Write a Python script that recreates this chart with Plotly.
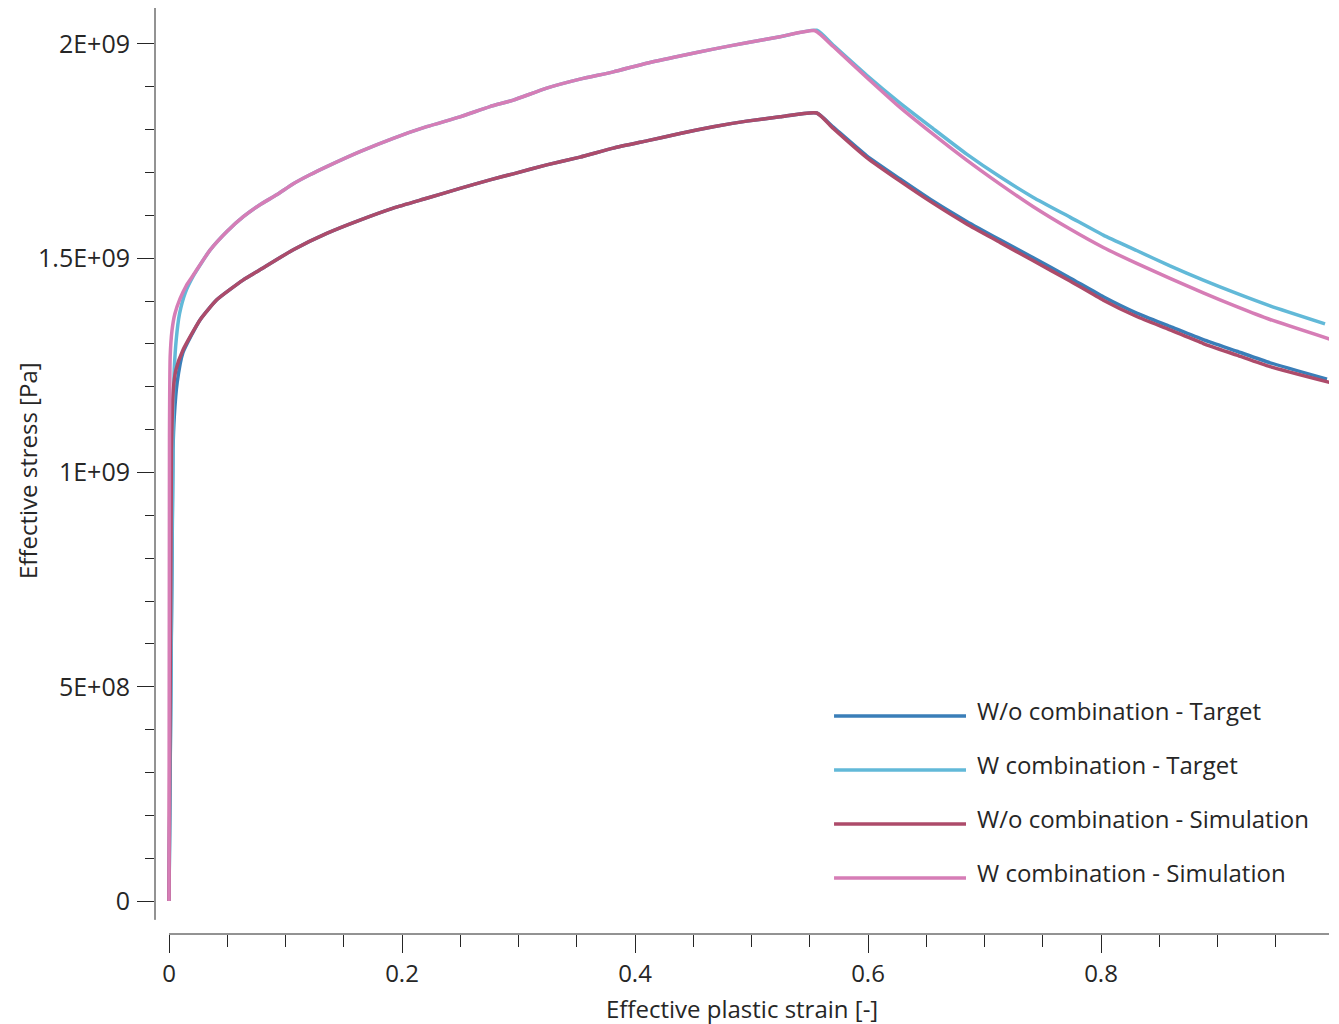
import numpy as np
import plotly.graph_objects as go

# ---------------- data (stress in units of 1E+09 Pa) ----------------
wo_target_x = [0, 0.0034, 0.0045, 0.0070, 0.0120, 0.0266, 0.0410, 0.0635, 0.0781, 0.1067, 0.1354,
               0.1639, 0.1925, 0.2212, 0.2498, 0.2755, 0.2955, 0.3242, 0.3528, 0.3814, 0.4100,
               0.4386, 0.4672, 0.4959, 0.5245, 0.5560, 0.5702, 0.5989, 0.6275, 0.6561, 0.6847,
               0.7133, 0.7419, 0.7734, 0.8020, 0.8306, 0.8592, 0.8878, 0.9165, 0.9451, 0.9940]
wo_target_y = [0, 1.050, 1.130, 1.210, 1.280, 1.356, 1.403, 1.449, 1.473, 1.520, 1.558,
               1.589, 1.617, 1.640, 1.663, 1.683, 1.697, 1.718, 1.736, 1.757, 1.774,
               1.791, 1.807, 1.820, 1.830, 1.839, 1.806, 1.739, 1.685, 1.633, 1.586,
               1.543, 1.501, 1.454, 1.410, 1.372, 1.341, 1.310, 1.283, 1.256, 1.218]

w_target_x = [0, 0.0036, 0.0045, 0.0062, 0.0090, 0.0140, 0.0209, 0.0352, 0.0495, 0.0638, 0.0781,
              0.0924, 0.1067, 0.1210, 0.1354, 0.1639, 0.1925, 0.2212, 0.2498, 0.2755, 0.2955,
              0.3242, 0.3528, 0.3814, 0.4100, 0.4386, 0.4672, 0.4959, 0.5245, 0.5560, 0.5702,
              0.5989, 0.6275, 0.6561, 0.6847, 0.7133, 0.7419, 0.7734, 0.8020, 0.8306, 0.8592,
              0.8878, 0.9165, 0.9451, 0.9923]
w_target_y = [0, 1.150, 1.240, 1.310, 1.370, 1.420, 1.459, 1.519, 1.562, 1.597, 1.625,
              1.648, 1.674, 1.695, 1.714, 1.749, 1.780, 1.807, 1.830, 1.854, 1.869,
              1.897, 1.918, 1.935, 1.955, 1.972, 1.988, 2.003, 2.017, 2.032, 1.997,
              1.927, 1.862, 1.802, 1.743, 1.690, 1.642, 1.596, 1.554, 1.518, 1.482,
              1.449, 1.418, 1.389, 1.347]

wo_sim_x = [0, 0.0021, 0.0037, 0.0060, 0.0120, 0.0266, 0.0410, 0.0635, 0.0781, 0.1067, 0.1354,
            0.1639, 0.1925, 0.2212, 0.2498, 0.2755, 0.2955, 0.3242, 0.3528, 0.3814, 0.4100,
            0.4386, 0.4672, 0.4959, 0.5245, 0.5560, 0.5702, 0.5989, 0.6275, 0.6561, 0.6847,
            0.7133, 0.7419, 0.7734, 0.8020, 0.8306, 0.8592, 0.8878, 0.9165, 0.9451, 0.9966]
wo_sim_y = [0, 1.052, 1.193, 1.240, 1.286, 1.356, 1.403, 1.449, 1.473, 1.520, 1.558,
            1.589, 1.617, 1.640, 1.663, 1.683, 1.697, 1.718, 1.736, 1.757, 1.774,
            1.791, 1.807, 1.820, 1.830, 1.839, 1.803, 1.735, 1.680, 1.628, 1.580,
            1.537, 1.494, 1.447, 1.402, 1.364, 1.333, 1.301, 1.274, 1.247, 1.210]

w_sim_x = [0, 0.0004, 0.0010, 0.0025, 0.0050, 0.0094, 0.0150, 0.0209, 0.0352, 0.0495, 0.0638,
           0.0781, 0.0924, 0.1067, 0.1210, 0.1354, 0.1639, 0.1925, 0.2212, 0.2498, 0.2755,
           0.2955, 0.3242, 0.3528, 0.3814, 0.4100, 0.4386, 0.4672, 0.4959, 0.5245, 0.5545,
           0.5702, 0.5989, 0.6275, 0.6561, 0.6847, 0.7133, 0.7419, 0.7734, 0.8020, 0.8306,
           0.8592, 0.8878, 0.9165, 0.9451, 0.9966]
w_sim_y = [0, 1.080, 1.270, 1.330, 1.370, 1.405, 1.437, 1.461, 1.519, 1.562, 1.597,
           1.625, 1.648, 1.674, 1.695, 1.714, 1.749, 1.780, 1.807, 1.830, 1.854,
           1.869, 1.897, 1.918, 1.935, 1.955, 1.972, 1.988, 2.003, 2.017, 2.031,
           1.994, 1.922, 1.852, 1.789, 1.729, 1.673, 1.620, 1.568, 1.525, 1.488,
           1.453, 1.419, 1.387, 1.357, 1.311]

series_names = ["W/o combination - Target", "W combination - Target",
                "W/o combination - Simulation", "W combination - Simulation"]
series_colors = ["#3a7eb8", "#62b9d8", "#ad4b6a", "#d67db6"]

x_tickvals = [0, 0.2, 0.4, 0.6, 0.8]
x_ticktext = ["0", "0.2", "0.4", "0.6", "0.8"]
y_tickvals = [0, 5e8, 1e9, 1.5e9, 2e9]
y_ticktext = ["0", "5E+08", "1E+09", "1.5E+09", "2E+09"]

# ---------------- figure ----------------
FONT = "Open Sans"
TXT = "#262626"
AX = "#262626"
X_RANGE = [-0.01202, 0.99571]
Y_RANGE = [-0.077e9, 2.084e9]

fig = go.Figure()
data = [(wo_target_x, wo_target_y), (w_target_x, w_target_y),
        (wo_sim_x, wo_sim_y), (w_sim_x, w_sim_y)]
for (xs, ys), name, col in zip(data, series_names, series_colors):
    fig.add_trace(go.Scatter(x=xs, y=np.array(ys) * 1e9, mode="lines", name=name,
                             line=dict(color=col, width=3.5, shape="spline", smoothing=0.5),
                             showlegend=False))

# page body has an 8px margin, so the figure is sized/offset to compensate
fig.update_layout(
    width=1331, height=1016,
    margin=dict(l=147, r=10, t=0, b=90),
    paper_bgcolor="white", plot_bgcolor="white",
    font=dict(family=FONT, size=24, color=TXT),
    xaxis=dict(range=X_RANGE, tickvals=x_tickvals, ticktext=x_ticktext,
               ticks="outside", ticklen=18, tickwidth=1, tickcolor=AX,
               showgrid=False, zeroline=False, showline=False,
               minor=dict(dtick=0.05, tick0=0, ticks="outside", ticklen=12, tickcolor=AX, showgrid=False),
               tickfont=dict(family=FONT, size=24, color=TXT)),
    yaxis=dict(range=Y_RANGE, tickvals=y_tickvals, ticktext=y_ticktext,
               ticks="outside", ticklen=17, tickwidth=1, tickcolor=AX,
               showgrid=False, zeroline=False, showline=False, ticklabelstandoff=2,
               minor=dict(dtick=1e8, tick0=0, ticks="outside", ticklen=9, tickcolor=AX, showgrid=False),
               tickfont=dict(family=FONT, size=25, color=TXT)),
)

# detached axis lines
fig.add_shape(type="line", xref="x", yref="paper", x0=0, x1=X_RANGE[1], y0=0, y1=0,
              line=dict(color=AX, width=1))
fig.add_shape(type="line", xref="paper", yref="y", x0=0, x1=0, y0=-0.044e9, y1=Y_RANGE[1],
              line=dict(color=AX, width=1))

# axis titles
fig.add_annotation(text="Effective plastic strain [-]", xref="paper", yref="paper",
                   x=0.5, y=-0.080, xanchor="center", yanchor="middle", showarrow=False,
                   font=dict(family=FONT, size=24, color=TXT))
fig.add_annotation(text="Effective stress [Pa]", xref="paper", yref="paper",
                   x=-0.109, y=0.5, xanchor="center", yanchor="middle", textangle=-90,
                   showarrow=False, font=dict(family=FONT, size=24, color=TXT))

# custom legend (long line samples)
leg_y = [0.2354, 0.1771, 0.1188, 0.0605]
for ly, name, col in zip(leg_y, series_names, series_colors):
    fig.add_shape(type="line", xref="paper", yref="paper", x0=0.5784, x1=0.6908, y0=ly, y1=ly,
                  line=dict(color=col, width=3.5))
    fig.add_annotation(text=name, xref="paper", yref="paper", x=0.6985, y=ly + 0.006,
                       xanchor="left", yanchor="middle", showarrow=False,
                       font=dict(family=FONT, size=24, color=TXT))

fig.write_html("out.html")
